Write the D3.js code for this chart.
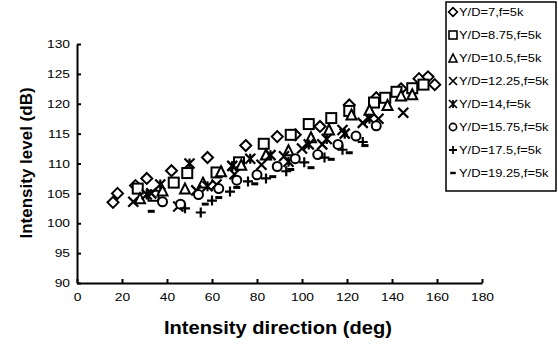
<!DOCTYPE html>
<html>
<head>
<meta charset="utf-8">
<script src="https://cdn.jsdelivr.net/npm/d3@7"></script>
<style>
  body { margin: 0; background: #fff; }
  svg { font-family: "Liberation Sans", Arial, sans-serif; }
</style>
</head>
<body>
<svg id="chart" width="558" height="345"></svg>
<script>
// values: [direction deg, level dB]
const yd7 = [[16,103.5],[18,105],[26,106.3],[31,107.5],[42,108.8],[58,111],[75,113],[89,114.5],[97,114.8],[108,116.2],[121,119.8],[133,121],[144,122.5],[152,124.2],[156,124.5],[159,123.2]];
const yd875 = [[27,105.8],[34,104.6],[43,106.8],[49,108.4],[62,108.5],[72,110.2],[83,113.3],[95,114.8],[103,116.6],[113,117.6],[121,118.8],[132,120.2],[137,121],[142,122],[149,122.6],[154,123.2]];
const yd105 = [[28,104.2],[38,105.5],[48,105.8],[56,106.8],[64,108.7],[73,109.8],[84,111.5],[94,112.2],[104,114.4],[112,115.7],[122,118.2],[130,119],[138,119.8],[144,121.4],[149,121.6]];
const yd1225 = [[25,103.6],[33,105],[45,102.8],[53,105.5],[62,106.5],[70,108.2],[82,109.8],[92,111.2],[100,112.5],[109,113.2],[118,115.6],[127,116.8],[134,117.5],[145,118.5]];
const yd14 = [[31,104.8],[37,106.5],[50,110],[58,106.2],[69,109.6],[77,110.8],[86,111.4],[94,110.3],[103,113.2],[111,114.1],[119,115],[130,117.5]];
const yd1575 = [[38,103.6],[46,103.2],[54,104.8],[63,105.8],[71,107.2],[80,108.1],[89,109.5],[97,110.8],[107,111.5],[116,113.2],[124,114.6],[133,116.3]];
const yd175 = [[48,102.5],[55,101.8],[60,103.8],[68,105.3],[76,107],[84,107.5],[93,108.7],[101,110.2],[110,111],[118,112.3],[127,113.6]];
const yd1925 = [[33,102],[57,103.2],[63,104.3],[71,106],[79,106.6],[87,107.8],[95,109],[104,109.3],[113,110.7],[121,111.8],[128,113]];

const seriesNames = ["Y/D=7,f=5k","Y/D=8.75,f=5k","Y/D=10.5,f=5k","Y/D=12.25,f=5k","Y/D=14,f=5k","Y/D=15.75,f=5k","Y/D=17.5,f=5k","Y/D=19.25,f=5k"];
const seriesShapes = ["diamond","square","triangle","cross","star","circle","plus","dash"];
const seriesData = [yd7, yd875, yd105, yd1225, yd14, yd1575, yd175, yd1925];

const xTicks = [0,20,40,60,80,100,120,140,160,180];
const yTicks = [90,95,100,105,110,115,120,125,130];

const svg = d3.select("#chart");
const x = d3.scaleLinear().domain([0,180]).range([77,482]);
const y = d3.scaleLinear().domain([90,130]).range([283,44]);

// the source picture is a bit stretched sideways, so widen horizontal text
function widen(sel, k) {
  sel.each(function () {
    const w = this.getComputedTextLength();
    d3.select(this).attr("textLength", w * k).attr("lengthAdjust", "spacingAndGlyphs");
  });
}

// axes (ticks point inward, Excel style)
const xAxis = svg.append("g").attr("transform","translate(0,283)")
  .call(d3.axisBottom(x).tickValues(xTicks).tickSizeInner(-4).tickSizeOuter(0).tickPadding(10));
const yAxis = svg.append("g").attr("transform","translate(77,0)")
  .call(d3.axisLeft(y).tickValues(yTicks).tickSizeInner(-4).tickSizeOuter(0).tickPadding(7));
[xAxis, yAxis].forEach(a => {
  a.select(".domain").attr("stroke","#000").attr("stroke-width",2);
  a.selectAll(".tick line").attr("stroke","#000").attr("stroke-width",2);
  a.selectAll("text").attr("font-size",11.5).attr("fill","#000").attr("font-family","Liberation Sans, Arial, sans-serif");
});
widen(xAxis.selectAll("text"), 1.2);
widen(yAxis.selectAll("text"), 1.2);

function drawMarker(g, shape, cx, cy) {
  const s = 5;
  if (shape === "diamond") {
    g.append("path").attr("d", `M${cx},${cy-s-0.5}L${cx+s+0.5},${cy}L${cx},${cy+s+0.5}L${cx-s-0.5},${cy}Z`)
      .attr("fill","#fff").attr("stroke","#000").attr("stroke-width",2);
  } else if (shape === "square") {
    g.append("rect").attr("x",cx-s).attr("y",cy-s).attr("width",2*s).attr("height",2*s)
      .attr("fill","#fff").attr("stroke","#000").attr("stroke-width",2);
  } else if (shape === "triangle") {
    g.append("path").attr("d", `M${cx},${cy-s}L${cx+s},${cy+s}L${cx-s},${cy+s}Z`)
      .attr("fill","#fff").attr("stroke","#000").attr("stroke-width",2);
  } else if (shape === "cross") {
    g.append("path").attr("d", `M${cx-s},${cy-s}L${cx+s},${cy+s}M${cx+s},${cy-s}L${cx-s},${cy+s}`)
      .attr("stroke","#000").attr("stroke-width",2.2);
  } else if (shape === "star") {
    g.append("path").attr("d", `M${cx-s},${cy-s}L${cx+s},${cy+s}M${cx+s},${cy-s}L${cx-s},${cy+s}M${cx},${cy-s}L${cx},${cy+s}`)
      .attr("stroke","#000").attr("stroke-width",2.2);
  } else if (shape === "circle") {
    g.append("circle").attr("cx",cx).attr("cy",cy).attr("r",s-0.5)
      .attr("fill","#fff").attr("stroke","#000").attr("stroke-width",2);
  } else if (shape === "plus") {
    g.append("path").attr("d", `M${cx-s},${cy}L${cx+s},${cy}M${cx},${cy-s}L${cx},${cy+s}`)
      .attr("stroke","#000").attr("stroke-width",2.2);
  } else if (shape === "dash") {
    g.append("path").attr("d", `M${cx-3.5},${cy}L${cx+3.5},${cy}`)
      .attr("stroke","#000").attr("stroke-width",3);
  }
}

const plot = svg.append("g");
seriesData.forEach((data, i) => {
  const g = plot.append("g");
  data.forEach(d => drawMarker(g, seriesShapes[i], x(d[0]), y(d[1])));
});

// legend
const lg = svg.append("g");
lg.append("rect").attr("x",446).attr("y",2).attr("width",110).attr("height",189)
  .attr("fill","#fff").attr("stroke","#000").attr("stroke-width",1.5);
seriesNames.forEach((name, i) => {
  const ly = 12 + i * 23;
  const g = lg.append("g");
  drawMarker(g, seriesShapes[i], 453, ly);
  g.selectAll("*").attr("transform", `translate(453,${ly}) scale(0.8) translate(-453,${-ly})`);
  const t = lg.append("text").attr("x",459).attr("y",ly+4).attr("font-size",11.5).text(name);
  widen(t, 1.12);
});

// axis titles
const xt = svg.append("text").attr("x",278).attr("y",334).attr("text-anchor","middle")
  .attr("font-size",17.5).attr("font-weight","bold").text("Intensity direction (deg)");
widen(xt, 1.15);
svg.append("text").attr("transform","translate(32,163) rotate(-90)").attr("text-anchor","middle")
  .attr("font-size",17).attr("font-weight","bold").text("Intensity level (dB)");
</script>
</body>
</html>
